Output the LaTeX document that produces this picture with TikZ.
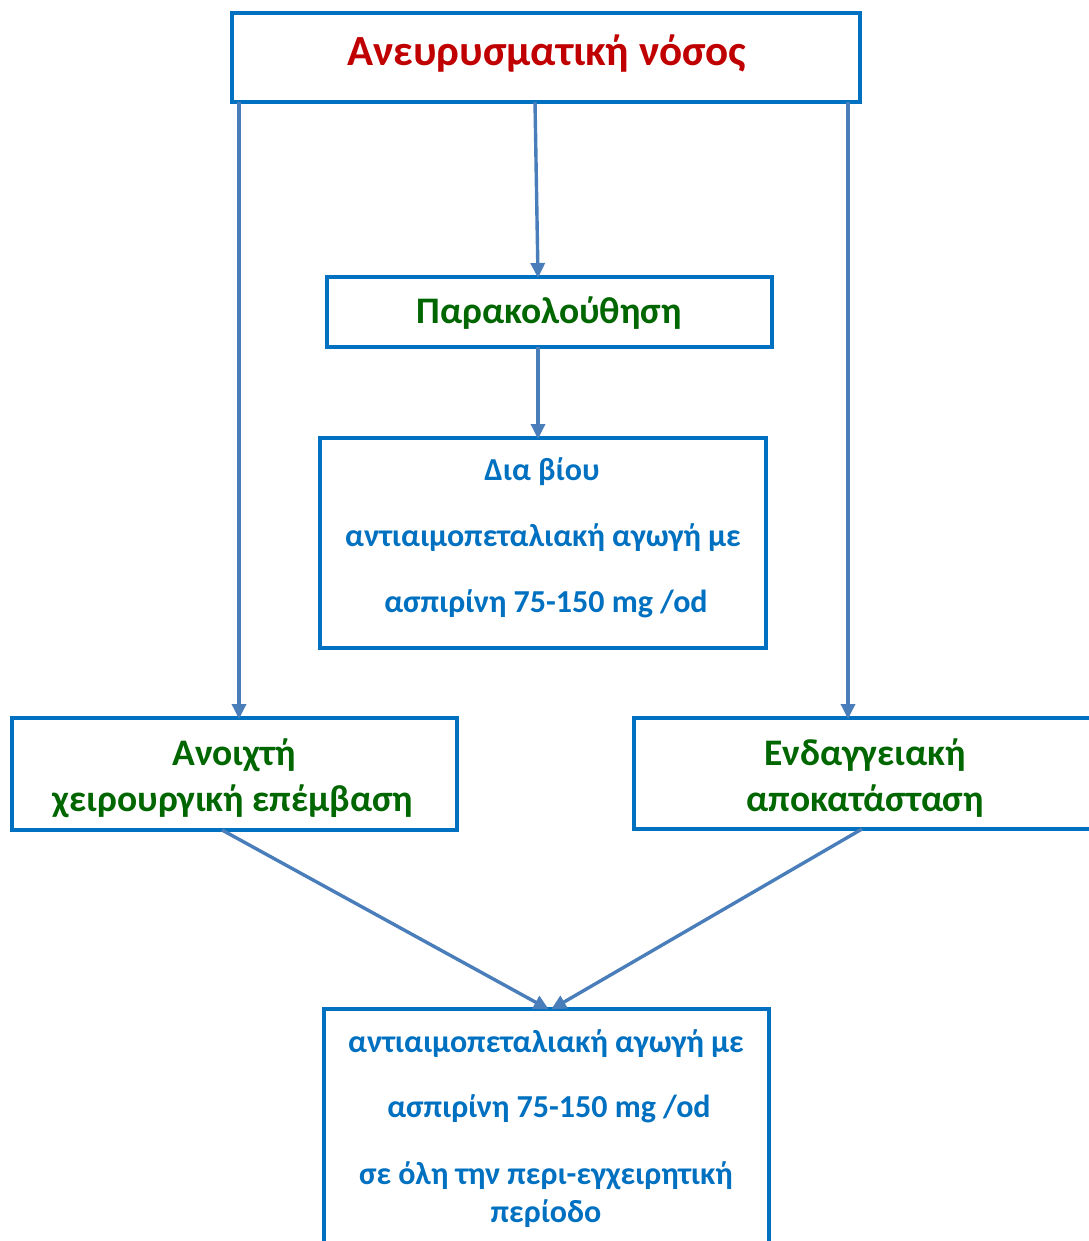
\documentclass[tikz,border=0pt]{standalone}
\usepackage{fontspec}
\setmainfont{Carlito}
\usetikzlibrary{arrows.meta}
\definecolor{boxblue}{HTML}{0070C0}
\definecolor{arrblue}{HTML}{4A7EBB}
\definecolor{titlered}{HTML}{C00000}
\definecolor{dkgreen}{HTML}{006600}
\tikzset{
  box/.style={draw=boxblue, line width=3.2pt, inner sep=0pt, outer sep=0pt, fill=white},
  conn/.style={draw=arrblue, line width=3.4pt, -{Triangle[length=15pt,width=14pt]}, shorten >=-1pt},
  ttl/.style={text=titlered, font=\fontsize{43}{50}\selectfont\bfseries, inner sep=0pt},
  grn/.style={text=dkgreen, font=\fontsize{37.5}{44}\selectfont\bfseries, inner sep=0pt},
  blu/.style={text=boxblue, font=\fontsize{32}{38}\selectfont\bfseries, inner sep=0pt},
}
\begin{document}
\begin{tikzpicture}[x=1pt,y=-1pt]
\useasboundingbox (0,0) rectangle (1088,1241);
% boxes
\node[box, minimum width=628pt, minimum height=89pt, anchor=north west] (top) at (232,13) {};
\node[box, minimum width=445pt, minimum height=70pt, anchor=north west] (par) at (327,277) {};
\node[box, minimum width=446pt, minimum height=210pt, anchor=north west] (dia) at (320,438) {};
\node[box, minimum width=445pt, minimum height=112pt, anchor=north west] (open) at (12,718) {};
\node[box, minimum width=480pt, minimum height=111pt, anchor=north west] (endo) at (634,718) {};
\node[box, minimum width=445pt, minimum height=260pt, anchor=north west] (bot) at (324,1009) {};
% connector end points
\coordinate (t1) at (239,102);
\coordinate (t2) at (535,102);
\coordinate (t3) at (848,102);
\coordinate (o1) at (239,718);
\coordinate (p1) at (538,277);
\coordinate (p2) at (538,347);
\coordinate (d1) at (538,438);
\coordinate (e1) at (848,718);
\coordinate (ob) at (222,830);
\coordinate (eb) at (862,829);
\coordinate (b1) at (548,1009);
\coordinate (b2) at (552,1009);
% connectors
\draw[conn] (t2) -- (p1);
\draw[conn] (p2) -- (d1);
\draw[conn] (t1) -- (o1);
\draw[conn] (t3) -- (e1);
\draw[conn] (ob) -- (b1);
\draw[conn] (eb) -- (b2);
% texts
\node[ttl] (ttext) at (547,54) {Ανευρυσματική νόσος};
\node[grn] (ptext) at (549,313) {Παρακολούθηση};
\node[blu] (d1t) at (542,472) {Δια βίου};
\node[blu] (d2t) at (543,538) {αντιαιμοπεταλιακή αγωγή με};
\node[blu] (d3t) at (546,604) {ασπιρίνη 75-150 mg /od};
\node[grn] (o1t) at (234,755) {Ανοιχτή};
\node[grn] (o2t) at (233,801) {χειρουργική επέμβαση};
\node[grn] (e1t) at (865,755) {Ενδαγγειακή};
\node[grn] (e2t) at (865,801) {αποκατάσταση};
\node[blu] (b1t) at (546,1044) {αντιαιμοπεταλιακή αγωγή με};
\node[blu] (b2t) at (549,1109) {ασπιρίνη 75-150 mg /od};
\node[blu] (b3t) at (546,1176) {σε όλη την περι-εγχειρητική};
\node[blu] (b4t) at (546,1214) {περίοδο};
\end{tikzpicture}
\end{document}
